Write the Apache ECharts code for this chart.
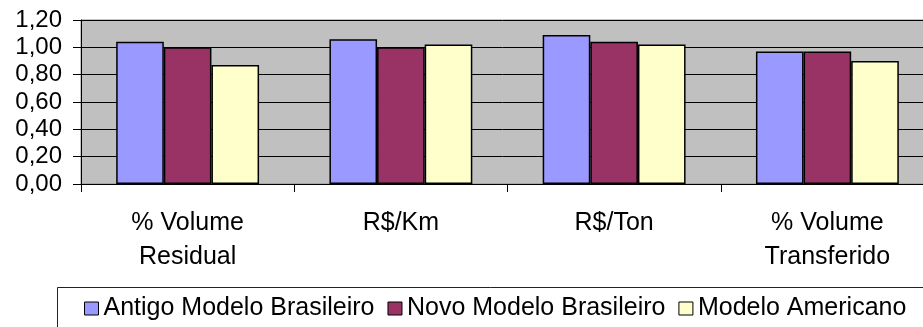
<!DOCTYPE html>
<html>
<head>
<meta charset="utf-8">
<style>
  html, body { margin: 0; padding: 0; background: #fff; }
  #chart { width: 923px; height: 327px; }
</style>
<script src="https://cdn.jsdelivr.net/npm/echarts@6/dist/echarts.min.js"></script>
</head>
<body>
<div id="chart"></div>
<script>
// Indicator categories (two-line labels use \n)
const categories = ['% Volume\nResidual', 'R$/Km', 'R$/Ton', '% Volume\nTransferido'];

// Series names and values
const seriesNames = ['Antigo Modelo Brasileiro', 'Novo Modelo Brasileiro', 'Modelo Americano'];
const antigoBrasileiro = [1.04, 1.06, 1.09, 0.97];
const novoBrasileiro = [1.00, 1.00, 1.04, 0.97];
const modeloAmericano = [0.87, 1.02, 1.02, 0.90];

// Value axis ticks
const yTicks = [0, 0.2, 0.4, 0.6, 0.8, 1.0, 1.2];

const seriesColors = ['#9999FF', '#993366', '#FFFFCC'];
const seriesData = [antigoBrasileiro, novoBrasileiro, modeloAmericano];

const FONT = 'Liberation Sans, Arial, sans-serif';

const chart = echarts.init(document.getElementById('chart'), null, { renderer: 'canvas' });

chart.setOption({
  animation: false,
  backgroundColor: '#ffffff',
  textStyle: { fontFamily: FONT, color: '#000' },
  // plot area runs slightly past the right edge of the canvas
  grid: {
    left: 81,
    top: 20,
    width: 853,
    height: 164,
    show: true,
    backgroundColor: '#C0C0C0',
    borderColor: '#8c8c8c',
    borderWidth: 1,
    containLabel: false,
    outerBoundsMode: 'none'
  },
  legend: {
    left: 84,
    top: 296,
    padding: 0,
    itemWidth: 14,
    itemHeight: 13,
    itemGap: 13,
    icon: 'rect',
    itemStyle: { borderColor: '#000', borderWidth: 1 },
    textStyle: { fontFamily: FONT, fontSize: 25, color: '#000' },
    data: seriesNames
  },
  xAxis: {
    type: 'category',
    data: categories,
    axisLine: { show: true, lineStyle: { color: '#000', width: 1 } },
    axisTick: { show: true, length: 8, lineStyle: { color: '#000' } },
    axisLabel: {
      fontFamily: FONT,
      fontSize: 25,
      color: '#000',
      lineHeight: 34,
      margin: 22,
      interval: 0
    },
    splitLine: { show: false }
  },
  yAxis: {
    type: 'value',
    min: yTicks[0],
    max: yTicks[yTicks.length - 1],
    interval: 0.2,
    axisLine: { show: true, lineStyle: { color: '#000', width: 1 } },
    axisTick: { show: true, length: 8, lineStyle: { color: '#000' } },
    axisLabel: {
      fontFamily: FONT,
      fontSize: 24,
      color: '#000',
      margin: 19,
      formatter: v => v.toFixed(2).replace('.', ',')
    },
    splitLine: { show: true, lineStyle: { color: '#000', width: 1 } }
  },
  series: seriesNames.map((name, i) => ({
    name: name,
    type: 'bar',
    data: seriesData[i],
    barGap: '0%',
    barCategoryGap: '33%',
    itemStyle: {
      color: seriesColors[i],
      borderColor: '#000',
      borderWidth: 1.5
    }
  })),
  graphic: [
    {
      type: 'rect',
      left: 55,
      top: 285,
      silent: true,
      shape: { width: 900, height: 60 },
      style: { fill: 'none', stroke: '#222', lineWidth: 1 }
    }
  ]
});
</script>
</body>
</html>
